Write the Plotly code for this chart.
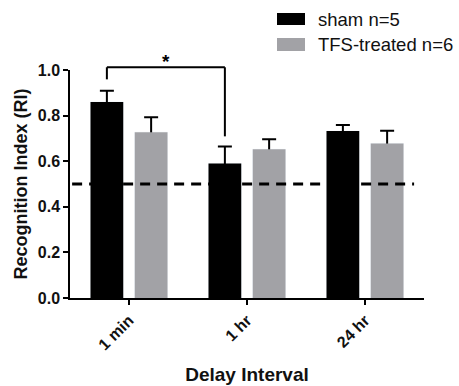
import plotly.graph_objects as go

# ---- data ----
categories = ["1 min", "1 hr", "24 hr"]
sham_mean = [0.86, 0.59, 0.732]
sham_sem = [0.049, 0.074, 0.027]
tfs_mean = [0.727, 0.652, 0.678]
tfs_sem = [0.066, 0.044, 0.056]
y_tick_vals = [0.0, 0.2, 0.4, 0.6, 0.8, 1.0]
chance_level = 0.5
sig_pair = (0, 1)          # sham 1 min vs sham 1 hr
sig_label = "*"
legend_labels = ["sham n=5", "TFS-treated n=6"]

# ---- style ----
FONT = "Liberation Sans, Arial, sans-serif"
SHAM_COLOR = "#000000"
TFS_COLOR = "#a2a2a6"
BARGAP = 0.25
BARGROUPGAP = 0.26
W, H = 459, 386
M = dict(l=70, r=35, t=70, b=88, pad=0)

fig = go.Figure()

err_style = dict(type="data", symmetric=True, color="black", thickness=2, width=7)

# error bars on transparent twin bars (drawn first, lower half hidden by bars)
fig.add_trace(go.Bar(x=categories, y=sham_mean, offsetgroup="sham",
                     marker=dict(color="rgba(0,0,0,0)"),
                     error_y=dict(array=sham_sem, **err_style),
                     showlegend=False, hoverinfo="skip"))
fig.add_trace(go.Bar(x=categories, y=tfs_mean, offsetgroup="tfs",
                     marker=dict(color="rgba(0,0,0,0)"),
                     error_y=dict(array=tfs_sem, **err_style),
                     showlegend=False, hoverinfo="skip"))
# visible bars
fig.add_trace(go.Bar(x=categories, y=sham_mean, offsetgroup="sham", name=legend_labels[0],
                     marker=dict(color=SHAM_COLOR, line=dict(width=0)), showlegend=False))
fig.add_trace(go.Bar(x=categories, y=tfs_mean, offsetgroup="tfs", name=legend_labels[1],
                     marker=dict(color=TFS_COLOR, line=dict(width=0)), showlegend=False))

shapes = []
annotations = []

# chance-level dashed line
shapes.append(dict(type="line", xref="paper", yref="y", x0=0.006, x1=0.972,
                   y0=chance_level, y1=chance_level, layer="above",
                   line=dict(color="black", width=3, dash="10px,7px")))

# significance bracket between sham bars
slot = (1 - BARGAP) / 2
sham_off = -slot / 2
i, j = sig_pair
xl = i + sham_off
xr = j + sham_off
top = 1.012
yl = sham_mean[i] + sham_sem[i] + 0.05
yr = sham_mean[j] + sham_sem[j] + 0.045
br = dict(color="black", width=2)
shapes.append(dict(type="line", xref="x", yref="paper", x0=xl, x1=xl, y0=yl, y1=top, line=br))
shapes.append(dict(type="line", xref="x", yref="paper", x0=xl, x1=xr, y0=top, y1=top, line=br))
shapes.append(dict(type="line", xref="x", yref="paper", x0=xr, x1=xr, y0=top, y1=yr, line=br))
annotations.append(dict(x=(xl + xr) / 2, y=top, xref="x", yref="paper", text=sig_label,
                        showarrow=False, xanchor="center", yanchor="bottom", yshift=-7,
                        font=dict(family=FONT, size=19, color="black", weight="bold")))

# manual legend
pw = W - M["l"] - M["r"]
ph = H - M["t"] - M["b"]
def px2x(p):
    return (p - M["l"]) / pw
def py2y(p):
    return (H - M["b"] - p) / ph

legend_items = [(legend_labels[0], SHAM_COLOR, 13, 25),
                (legend_labels[1], TFS_COLOR, 38, 51)]
for label, col, ytop, ybot in legend_items:
    shapes.append(dict(type="rect", xref="paper", yref="paper",
                       x0=px2x(277), x1=px2x(305), y0=py2y(ybot), y1=py2y(ytop),
                       fillcolor=col, line=dict(width=0)))
    annotations.append(dict(x=px2x(317), y=py2y((ytop + ybot) / 2), xref="paper", yref="paper",
                            text=label, showarrow=False, xanchor="left", yanchor="middle",
                            borderpad=0,
                            font=dict(family=FONT, size=18.5, color="#111111")))

fig.update_layout(
    width=W, height=H, margin=M,
    paper_bgcolor="white", plot_bgcolor="white",
    barmode="group", bargap=BARGAP, bargroupgap=BARGROUPGAP,
    showlegend=False,
    shapes=shapes, annotations=annotations,
    font=dict(family=FONT, color="#111111"),
    xaxis=dict(
        type="category", range=[-0.5, 2.5], automargin=False,
        showline=True, linecolor="black", linewidth=1.5,
        ticks="outside", ticklen=5, tickwidth=1.5, tickcolor="black",
        tickangle=-45, showgrid=False, zeroline=False,
        tickfont=dict(family=FONT, size=16, color="#111111", weight="bold"),
        title=dict(text="Delay Interval", standoff=15,
                   font=dict(family=FONT, size=19, color="#111111", weight="bold")),
    ),
    yaxis=dict(
        range=[0, 1.0], tickvals=y_tick_vals, tickformat=".1f", automargin=False,
        showline=True, linecolor="black", linewidth=1.5,
        ticks="outside", ticklen=5, tickwidth=1.5, tickcolor="black",
        showgrid=False, zeroline=False,
        tickfont=dict(family=FONT, size=16, color="#111111", weight="bold"),
        title=dict(text="Recognition Index (RI)", standoff=5,
                   font=dict(family=FONT, size=18, color="#111111", weight="bold")),
    ),
)

fig.write_html("out.html", config={"displayModeBar": False},
               post_script="document.body.style.margin='0';")
